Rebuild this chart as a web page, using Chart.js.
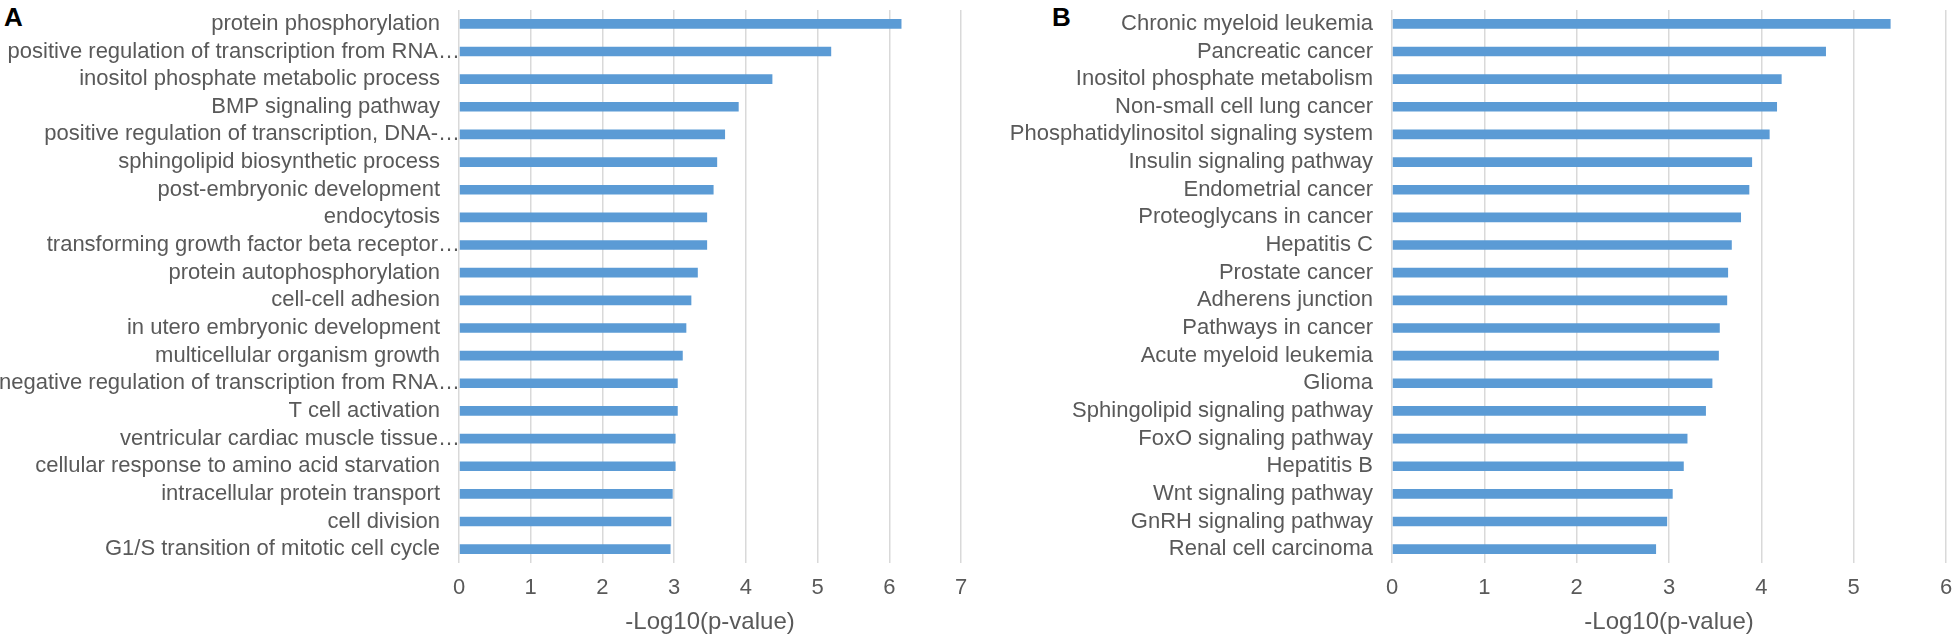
<!DOCTYPE html>
<html>
<head>
<meta charset="utf-8">
<script src="https://cdn.jsdelivr.net/npm/chart.js@4/dist/chart.umd.min.js"></script>
<style>
  html, body { margin: 0; padding: 0; background: #fff; }
  body { width: 1956px; height: 640px; position: relative; overflow: hidden; font-family: "Liberation Sans", Arial, sans-serif; }
  .panel { position: absolute; top: 0; }
  .letter { position: absolute; font-weight: bold; font-size: 26px; color: #000; line-height: 1; }
</style>
</head>
<body>
<div class="letter" style="left:4px; top:4px;">A</div>
<div class="letter" style="left:1052px; top:4px;">B</div>
<canvas id="chartA" class="panel" style="left:0px;" width="975" height="640"></canvas>
<canvas id="chartB" class="panel" style="left:975px;" width="981" height="640"></canvas>
<script>
// Panel A: GO biological process terms
const goTerms = [
  "protein phosphorylation",
  "positive regulation of transcription from RNA…",
  "inositol phosphate metabolic process",
  "BMP signaling pathway",
  "positive regulation of transcription, DNA-…",
  "sphingolipid biosynthetic process",
  "post-embryonic development",
  "endocytosis",
  "transforming growth factor beta receptor…",
  "protein autophosphorylation",
  "cell-cell adhesion",
  "in utero embryonic development",
  "multicellular organism growth",
  "negative regulation of transcription from RNA…",
  "T cell activation",
  "ventricular cardiac muscle tissue…",
  "cellular response to amino acid starvation",
  "intracellular protein transport",
  "cell division",
  "G1/S transition of mitotic cell cycle"
]
const goValues = [6.17, 5.19, 4.37, 3.90, 3.71, 3.60, 3.55, 3.46, 3.46, 3.33,
                  3.24, 3.17, 3.12, 3.05, 3.05, 3.02, 3.02, 2.98, 2.96, 2.95]

// Panel B: KEGG pathways
const keggTerms = [
  "Chronic myeloid leukemia",
  "Pancreatic cancer",
  "Inositol phosphate metabolism",
  "Non-small cell lung cancer",
  "Phosphatidylinositol signaling system",
  "Insulin signaling pathway",
  "Endometrial cancer",
  "Proteoglycans in cancer",
  "Hepatitis C",
  "Prostate cancer",
  "Adherens junction",
  "Pathways in cancer",
  "Acute myeloid leukemia",
  "Glioma",
  "Sphingolipid signaling pathway",
  "FoxO signaling pathway",
  "Hepatitis B",
  "Wnt signaling pathway",
  "GnRH signaling pathway",
  "Renal cell carcinoma"
]
const keggValues = [5.40, 4.70, 4.22, 4.17, 4.09, 3.90, 3.87, 3.78, 3.68, 3.64,
                    3.63, 3.55, 3.54, 3.47, 3.40, 3.20, 3.16, 3.04, 2.98, 2.86]

const axisMaxA = 7
const axisMaxB = 6
const axisTitle = "-Log10(p-value)"

const barColor = '#5B9BD5'
const textColor = '#595959'
const gridColor = '#D9D9D9'
const fontFamily = '"Liberation Sans", Arial, sans-serif'
const labelFont = '22px ' + fontFamily

// Category labels drawn by hand so the truncated ones ("…") can run
// up to the zero line like Excel does, while the rest stay right-aligned.
const categoryLabels = {
  id: 'categoryLabels',
  afterDraw(chart) {
    const ctx = chart.ctx
    const yScale = chart.scales.y
    const left = chart.chartArea.left
    ctx.save()
    ctx.font = labelFont
    ctx.fillStyle = textColor
    ctx.textAlign = 'right'
    ctx.textBaseline = 'middle'
    chart.data.labels.forEach((label, i) => {
      const y = yScale.getPixelForValue(i)
      const x = label.endsWith('…') ? left + 1 : left - 19
      ctx.fillText(label, x, y)
    })
    ctx.restore()
  }
}

function makeChart(canvasId, labels, values, axisMax, labelWidth, rightPad) {
  const ctx = document.getElementById(canvasId).getContext('2d')
  return new Chart(ctx, {
    type: 'bar',
    data: {
      labels: labels,
      datasets: [{
        data: values,
        backgroundColor: barColor,
        borderWidth: 0,
        categoryPercentage: 1.0,
        barPercentage: 0.35
      }]
    },
    plugins: [categoryLabels],
    options: {
      indexAxis: 'y',
      responsive: false,
      animation: false,
      devicePixelRatio: 1,
      layout: { padding: { top: 10, right: rightPad, bottom: 0, left: 0 } },
      plugins: {
        legend: { display: false },
        tooltip: { enabled: false }
      },
      scales: {
        x: {
          min: 0,
          max: axisMax,
          ticks: {
            stepSize: 1,
            color: textColor,
            font: { family: fontFamily, size: 22 },
            padding: 12
          },
          grid: { color: gridColor, lineWidth: 1.5, drawTicks: false },
          border: { display: false },
          title: {
            display: true,
            text: axisTitle,
            color: textColor,
            font: { family: fontFamily, size: 24 },
            padding: { top: 0, bottom: 3 }
          },
          afterFit: (scale) => {
            scale.height = 77
            scale.paddingLeft = 0
            scale.paddingRight = 0
          }
        },
        y: {
          ticks: { display: false, autoSkip: false },
          grid: { display: false, drawTicks: false },
          border: { display: false },
          afterFit: (scale) => {
            scale.width = labelWidth
            scale.paddingTop = 0
            scale.paddingBottom = 0
          }
        }
      }
    }
  })
}

makeChart('chartA', goTerms, goValues, axisMaxA, 459, 14)
makeChart('chartB', keggTerms, keggValues, axisMaxB, 417, 10)
</script>
</body>
</html>
